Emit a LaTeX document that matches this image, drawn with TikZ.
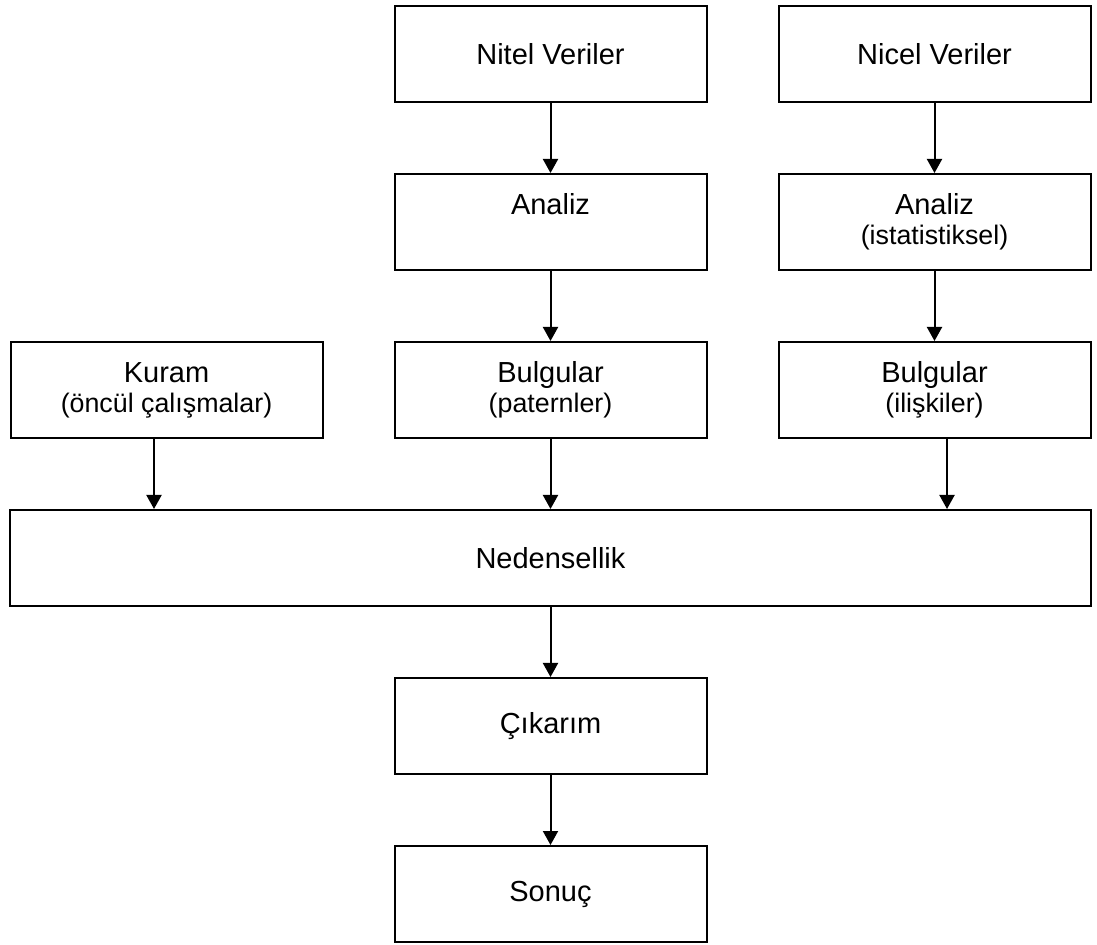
\documentclass[tikz,border=0pt]{standalone}
\usepackage{fontspec}
\setmainfont{Liberation Sans}
\usetikzlibrary{arrows.meta}

\newcommand{\subline}[1]{{\fontsize{13.4pt}{15pt}\selectfont #1}}

\begin{document}
\begin{tikzpicture}[x=0.5pt,y=-0.5pt,
  box/.style={draw, line width=1pt, rectangle, minimum width=156pt,
    minimum height=48pt, inner sep=0pt, align=center,
    font=\fontsize{14.5pt}{15pt}\selectfont},
  widebox/.style={box, minimum width=540.5pt},
  arr/.style={line width=1pt, -{Triangle[length=7pt,width=7.5pt]}}]

\useasboundingbox (0,0) rectangle (1097,945);

% upper rows: two data streams
\node[box] (nitel)  at (550.5,54)  {Nitel Veriler};
\node[box] (nicel)  at (934.5,54)  {Nicel Veriler};
\node[box] (analizA) at (550.5,222) {Analiz\\\subline{\phantom{(p)}}};
\node[box] (analizB) at (934.5,222) {Analiz\\\subline{(istatistiksel)}};
\node[box] (kuram)  at (166.5,390) {Kuram\\\subline{(öncül çalışmalar)}};
\node[box] (bulgA)  at (550.5,390) {Bulgular\\\subline{(paternler)}};
\node[box] (bulgB)  at (934.5,390) {Bulgular\\\subline{(ilişkiler)}};

% lower rows
\node[widebox] (neden) at (550.5,558) {Nedensellik};
\node[box] (cikarim) at (550.5,726) {Çıkarım};
\node[box] (sonuc)   at (550.5,894) {Sonuç};

% connectors
\draw[arr] (nitel) -- (analizA);
\draw[arr] (nicel) -- (analizB);
\draw[arr] (analizA) -- (bulgA);
\draw[arr] (analizB) -- (bulgB);
\draw[arr] ([xshift=-6.25pt]kuram.south) -- ([xshift=-6.25pt]kuram.south |- neden.north);
\draw[arr] (bulgA) -- (bulgA.south |- neden.north);
\draw[arr] ([xshift=6.25pt]bulgB.south) -- ([xshift=6.25pt]bulgB.south |- neden.north);
\draw[arr] (neden.south -| cikarim.north) -- (cikarim);
\draw[arr] (cikarim) -- (sonuc);
\end{tikzpicture}
\end{document}
